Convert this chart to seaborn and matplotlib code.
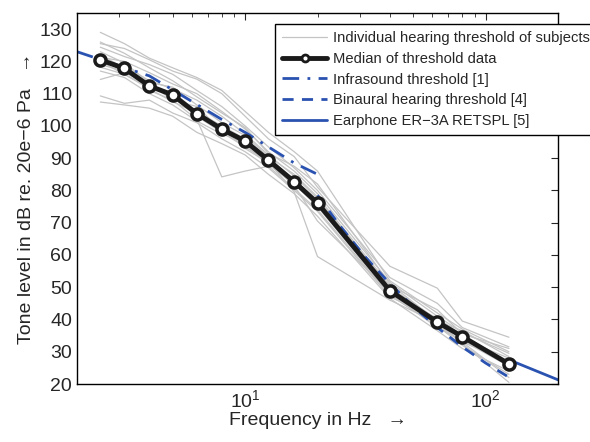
import numpy as np
import pandas as pd
import seaborn as sns
import matplotlib.pyplot as plt
from matplotlib.lines import Line2D

# frequencies of the measured thresholds (Hz)
freqs = [2.5, 3.15, 4, 5, 6.3, 8, 10, 12.5, 16, 20, 40, 63, 80, 125]

# median of threshold data (dB)
median = [120.5, 117.8, 112.4, 109.6, 103.8, 99.0, 95.3, 89.4, 82.7, 76.1,
          48.9, 39.2, 34.7, 26.2]

# individual subjects (dB)
subjects = [
    [129.0, 125.5, 121.0, 118.0, 115.0, 111.0, 104.5, 98.0, 92.0, 86.0, 52.0, 42.0, 37.0, 30.0],
    [125.5, 124.0, 120.5, 117.0, 114.5, 110.0, 103.0, 96.0, 90.5, 81.0, 56.5, 49.7, 39.5, 34.5],
    [124.4, 121.5, 119.0, 116.0, 111.0, 106.0, 100.0, 93.5, 87.0, 80.0, 53.0, 45.0, 37.5, 31.5],
    [121.3, 120.0, 116.5, 113.0, 110.0, 104.5, 99.0, 92.0, 86.0, 79.0, 51.5, 41.0, 36.0, 29.5],
    [120.3, 118.5, 114.0, 111.5, 108.0, 103.0, 97.5, 91.0, 84.5, 77.5, 50.0, 40.0, 34.0, 28.0],
    [118.2, 116.0, 112.0, 110.5, 104.5, 100.0, 96.0, 90.0, 83.0, 76.0, 49.0, 38.5, 33.0, 27.0],
    [114.4, 116.5, 113.0, 108.0, 106.0, 98.5, 94.0, 88.0, 82.0, 75.0, 48.0, 37.5, 33.5, 25.5],
    [109.3, 107.0, 108.0, 104.0, 101.0, 96.0, 92.0, 87.0, 80.0, 73.5, 47.0, 40.5, 35.0, 27.0],
    [107.4, 106.5, 105.5, 103.0, 98.0, 94.5, 91.0, 85.0, 79.0, 72.0, 46.5, 36.5, 31.0, 24.0],
    [122.0, 118.0, 111.0, 108.0, 102.0, 84.2, 86.0, 87.5, 80.5, 74.0, 47.5, 38.0, 32.0, 23.0],
    [119.0, 117.0, 112.5, 109.0, 103.0, 98.0, 93.5, 89.0, 79.5, 59.5, 46.0, 39.0, 34.5, 26.5],
    [123.0, 119.5, 113.5, 112.0, 106.5, 101.0, 97.0, 90.5, 85.0, 78.0, 50.5, 43.0, 35.5, 31.0],
    [117.0, 115.0, 110.0, 106.5, 101.5, 97.5, 95.0, 89.5, 83.5, 76.5, 49.5, 39.5, 32.5, 20.5],
    [120.0, 116.0, 111.5, 107.5, 104.0, 99.5, 93.0, 88.5, 81.5, 70.5, 48.5, 38.0, 33.0, 22.0],
    [126.0, 122.5, 118.0, 114.0, 109.0, 104.0, 99.5, 91.5, 87.5, 82.0, 51.0, 39.5, 36.5, 28.5],
]

# infrasound threshold [1]
infra_f = [2, 4, 8, 10, 16, 20]
infra_db = [123.0, 115.5, 102.0, 98.0, 88.5, 85.0]

# binaural hearing threshold [4]
bin_f = [20, 25, 31.5, 40, 50, 63, 80, 100, 125]
bin_db = [78.5, 68.7, 59.5, 51.1, 44.0, 37.5, 31.5, 26.5, 22.1]

# earphone ER-3A RETSPL [5]
ear_f = [125, 200]
ear_db = [27.5, 21.3]

sns.set_style('white')
plt.rcParams['font.family'] = ['Liberation Sans', 'DejaVu Sans']
plt.rcParams['mathtext.fontset'] = 'custom'
plt.rcParams['mathtext.rm'] = 'Liberation Sans'

blue = '#2a52b0'
gray = '#c4c4c4'

rows = []
for i, s in enumerate(subjects):
    for f, v in zip(freqs, s):
        rows.append({'subject': i, 'freq': f, 'db': v})
df_sub = pd.DataFrame(rows)
df_med = pd.DataFrame({'freq': freqs, 'db': median})

fig = plt.figure(figsize=(5.9, 4.42), dpi=100)
ax = fig.add_axes([0.1305, 0.1312, 0.8153, 0.8394])

sns.lineplot(data=df_sub, x='freq', y='db', units='subject', estimator=None,
             color=gray, lw=0.9, ax=ax, legend=False)
sns.lineplot(x=infra_f, y=infra_db, color=blue, lw=2, ls=(0, (6, 3, 1, 3)), ax=ax)
sns.lineplot(x=bin_f, y=bin_db, color=blue, lw=2, ls=(0, (4, 3)), ax=ax)
sns.lineplot(x=ear_f, y=ear_db, color=blue, lw=2, ax=ax)
sns.lineplot(data=df_med, x='freq', y='db', color='#1a1a1a', lw=3.5,
             marker='o', markersize=8, markerfacecolor='white',
             markeredgecolor='#1a1a1a', markeredgewidth=2.5, ax=ax)

ax.set_xscale('log')
ax.set_xlim(2, 200)
ax.set_ylim(20, 135)
ax.set_yticks(np.arange(20, 131, 10))
ax.tick_params(which='both', direction='in', top=True, right=True, labelsize=14)
ax.tick_params(which='major', length=5)
ax.tick_params(which='minor', length=3)
for sp in ax.spines.values():
    sp.set_color('black')
    sp.set_linewidth(1)

ax.set_xlabel('Frequency in Hz   \u2192', fontsize=14, labelpad=1)
ax.set_ylabel('Tone level in dB re. 20e\u22126 Pa   \u2192', fontsize=14, labelpad=3)

handles = [
    Line2D([], [], color=gray, lw=0.9),
    Line2D([], [], color='#1a1a1a', lw=3.5, marker='o', markersize=5,
           markerfacecolor='white', markeredgecolor='#1a1a1a', markeredgewidth=2),
    Line2D([], [], color=blue, lw=2, ls=(0, (6, 3, 1, 3))),
    Line2D([], [], color=blue, lw=2, ls=(0, (4, 3))),
    Line2D([], [], color=blue, lw=2),
]
labels = ['Individual hearing threshold of subjects', 'Median of threshold data',
          'Infrasound threshold [1]', 'Binaural hearing threshold [4]',
          'Earphone ER\u22123A RETSPL [5]']
leg = ax.legend(handles, labels, loc='upper left', bbox_to_anchor=(0.466, 0.9457),
                bbox_transform=fig.transFigure, fontsize=10.6, frameon=True,
                fancybox=False, edgecolor='black', framealpha=1,
                handlelength=3.05, handletextpad=0.4, borderpad=0.5,
                labelspacing=0.45, borderaxespad=0)
leg.get_frame().set_linewidth(1)

fig.savefig('out.png', dpi=100)
